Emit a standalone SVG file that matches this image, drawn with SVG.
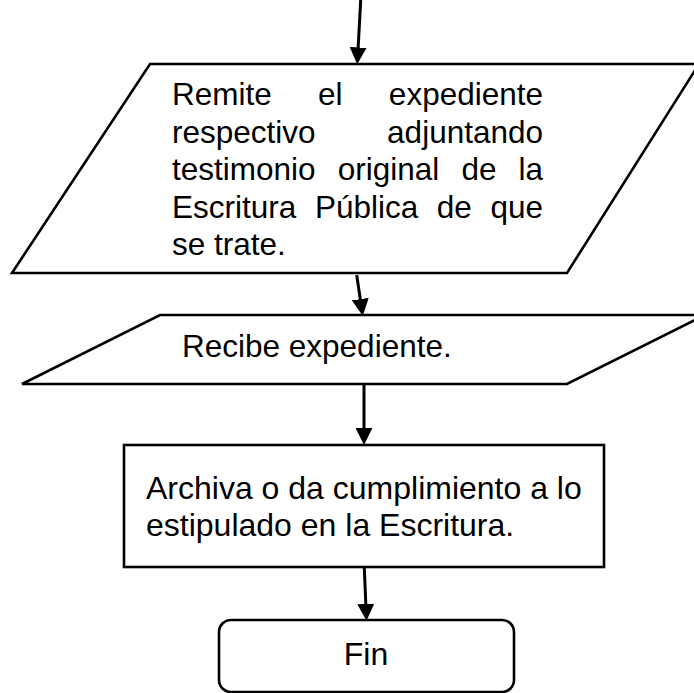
<svg xmlns="http://www.w3.org/2000/svg" width="694" height="693" viewBox="0 0 694 693">
<style>
.shape{fill:#fff;stroke:#000;stroke-width:2.6;stroke-linejoin:miter}
.conn{stroke:#000;stroke-width:3;fill:none}
text{font-family:"Liberation Sans",Arial,sans-serif;font-size:31.5px;fill:#000}
.big{font-size:32px}
</style>
<defs>
<marker id="ah" markerUnits="userSpaceOnUse" markerWidth="17" markerHeight="17" refX="2" refY="8" orient="auto" viewBox="0 0 16 16">
<path d="M0,0 L16,8 L0,16 z" fill="#000"/>
</marker>
</defs>
<rect width="694" height="693" fill="#fff"/>
<g id="n1">
<polygon class="shape" points="150,64 699,64 567,273 12,273"/>
<text x="172" y="105">Remite</text>
<text x="318" y="105">el</text>
<text x="543" y="105" text-anchor="end">expediente</text>
<text x="172" y="142.5">respectivo</text>
<text x="543" y="142.5" text-anchor="end">adjuntando</text>
<text x="172" y="180">testimonio</text>
<text x="337.7" y="180">original</text>
<text x="461.4" y="180">de</text>
<text x="543" y="180" text-anchor="end">la</text>
<text x="172" y="217.5">Escritura</text>
<text x="314.9" y="217.5">Pública</text>
<text x="436.8" y="217.5">de</text>
<text x="543" y="217.5" text-anchor="end">que</text>
<text x="172" y="255">se trate.</text>
</g>
<g id="n2">
<polygon class="shape" points="160,315 705,315 567,384 22,384"/>
<text x="182" y="357">Recibe expediente.</text>
</g>
<g id="n3">
<rect class="shape" x="124" y="445" width="480" height="122"/>
<text class="big" x="146" y="499">Archiva o da cumplimiento a lo</text>
<text class="big" x="146" y="536">estipulado en la Escritura.</text>
</g>
<g id="n4">
<rect class="shape" x="219" y="620" width="295" height="72" rx="12" ry="12"/>
<text class="big" x="366" y="665" text-anchor="middle">Fin</text>
</g>
<g id="connectors">
<line class="conn" x1="360.7" y1="0" x2="358.05" y2="49.5" marker-end="url(#ah)"/>
<line class="conn" x1="356.7" y1="275" x2="360.6" y2="301.2" marker-end="url(#ah)"/>
<line class="conn" x1="364" y1="385" x2="364" y2="430" marker-end="url(#ah)"/>
<line class="conn" x1="364.3" y1="568" x2="365.9" y2="606" marker-end="url(#ah)"/>
</g>
</svg>
